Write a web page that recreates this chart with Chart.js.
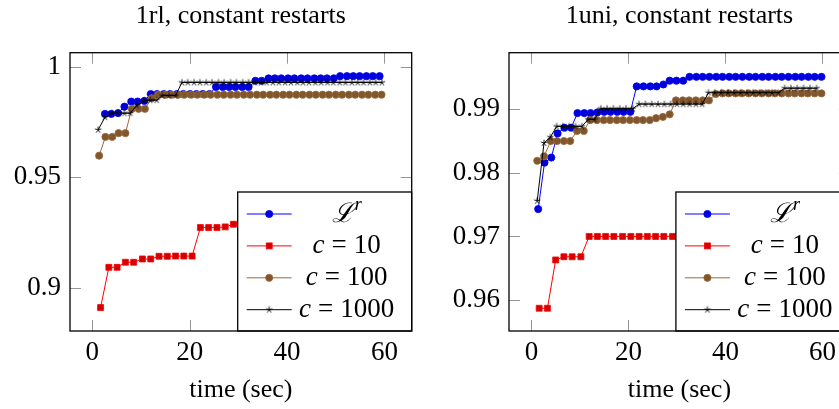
<!DOCTYPE html>
<html>
<head>
<meta charset="utf-8">
<script src="https://cdn.jsdelivr.net/npm/chart.js@4.4.1/dist/chart.umd.min.js"></script>
<style>
    html, body { margin: 0; padding: 0; background: #fff; overflow: hidden; width: 839px; height: 409px; }
    .panel { position: absolute; top: 0; }
    #rlChart { left: 0; }
    #uniChart { left: 439px; }
</style>
</head>
<body>
<canvas id="rlChart" class="panel" width="430" height="409"></canvas>
<canvas id="uniChart" class="panel" width="430" height="409"></canvas>
<script>
// tick labels
const xTicks = [0, 20, 40, 60];
const rlTicksY = [0.9, 0.95, 1];
const uniTicksY = [0.96, 0.97, 0.98, 0.99];

const seriesLabels = ['ℒ^r', 'c = 10', 'c = 100', 'c = 1000'];

// 1rl, constant restarts
const rlBlueTime = [2.6, 3.9, 5.3, 6.6, 8.0, 9.3, 10.7, 12.0, 13.3, 14.7, 16.0, 17.4, 18.7, 20.1, 21.4, 22.7, 24.1, 25.4, 26.8, 28.1, 29.4, 30.8, 32.1, 33.5, 34.8, 36.2, 37.5, 38.8, 40.2, 41.5, 42.9, 44.2, 45.6, 46.9, 48.2, 49.6, 50.9, 52.3, 53.6, 54.9, 56.3, 57.6, 59.0];
const rlBlueAcc = [0.9786, 0.9786, 0.9790, 0.9819, 0.9842, 0.9842, 0.9845,
    0.9876, 0.9876, 0.9876, 0.9876, 0.9876, 0.9876, 0.9876, 0.9876, 0.9876, 0.9876,
    0.9908, 0.9908, 0.9908, 0.9908, 0.9908, 0.9908, 0.9936, 0.9936,
    0.9947, 0.9947, 0.9947, 0.9947, 0.9947, 0.9947, 0.9947, 0.9947, 0.9947, 0.9947, 0.9947,
    0.9957, 0.9957, 0.9957, 0.9957, 0.9957, 0.9957, 0.9957];

const rlRedTime = [1.7, 3.4, 5.1, 6.8, 8.5, 10.3, 12.0, 13.7, 15.4, 17.1, 18.8, 20.5, 22.2, 23.9, 25.6, 27.3, 29.0, 30.7, 32.4, 34.1, 35.8, 37.5, 39.2, 40.9, 42.6, 44.4, 46.1, 47.8, 49.5, 51.2, 52.9, 54.6, 56.3, 58.0];
const rlRedAcc = [0.8910, 0.9092, 0.9092, 0.9115, 0.9115, 0.9130, 0.9130, 0.9142, 0.9142, 0.9143, 0.9143, 0.9143,
    0.9272, 0.9272, 0.9272, 0.9275, 0.9287, 0.9290, 0.9290, 0.9295, 0.9295, 0.9295, 0.9300, 0.9300,
    0.9300, 0.9300, 0.9305, 0.9305, 0.9305, 0.9305, 0.9310, 0.9310, 0.9310, 0.9310];

const rlBrownTime = [1.4, 2.7, 4.1, 5.4, 6.8, 8.1, 9.5, 10.8, 12.2, 13.5, 14.9, 16.2, 17.6, 18.9, 20.3, 21.6, 23.0, 24.3, 25.7, 27.0, 28.4, 29.7, 31.1, 32.4, 33.8, 35.1, 36.5, 37.8, 39.2, 40.5, 41.9, 43.2, 44.6, 45.9, 47.3, 48.6, 50.0, 51.3, 52.7, 54.0, 55.4, 56.7, 58.1, 59.4];
const rlBrownAcc = [0.9597, 0.9682, 0.9682, 0.9699, 0.9699, 0.9809, 0.9809, 0.9809, 0.9857,
    0.9873, 0.9873, 0.9873, 0.9873, 0.9873, 0.9873, 0.9873, 0.9873, 0.9873, 0.9873, 0.9873, 0.9873,
    0.9873, 0.9873, 0.9873, 0.9873, 0.9873, 0.9873, 0.9873, 0.9873, 0.9873, 0.9873, 0.9873, 0.9873,
    0.9873, 0.9873, 0.9873, 0.9873, 0.9873, 0.9873, 0.9873, 0.9873, 0.9873, 0.9873, 0.9873];

const rlBlackTime = [1.2, 2.6, 4.0, 5.3, 6.6, 7.8, 9.1, 10.6, 11.9, 13.2, 14.4, 15.7, 17.1, 18.4, 19.6, 20.9, 22.1, 23.4, 24.6, 25.9, 27.1, 28.4, 29.6, 30.9, 32.1, 33.3, 34.6, 35.8, 37.1, 38.3, 39.6, 40.8, 42.1, 43.3, 44.5, 45.8, 47.0, 48.3, 49.5, 50.8, 52.0, 53.3, 54.5, 55.7, 57.0, 58.2, 59.5];
const rlBlackAcc = [0.9714, 0.9771, 0.9789, 0.9789, 0.9789, 0.9789, 0.9824, 0.9845, 0.9848, 0.9848, 0.9869, 0.9869, 0.9869,
    0.9928, 0.9928, 0.9928, 0.9928, 0.9928, 0.9928, 0.9928, 0.9928, 0.9928, 0.9928, 0.9928, 0.9928,
    0.9928, 0.9928, 0.9928, 0.9928, 0.9928, 0.9928, 0.9928, 0.9928, 0.9928, 0.9928, 0.9928, 0.9928,
    0.9928, 0.9928, 0.9928, 0.9928, 0.9928, 0.9928, 0.9928, 0.9928, 0.9928, 0.9928];

// 1uni, constant restarts
const uniBlueTime = [1.4, 2.7, 4.1, 5.4, 6.8, 8.2, 9.5, 10.9, 12.2, 13.6, 15.0, 16.3, 17.7, 19.0, 20.4, 21.7, 23.1, 24.5, 25.8, 27.2, 28.5, 29.9, 31.3, 32.6, 34.0, 35.3, 36.7, 38.1, 39.4, 40.8, 42.1, 43.5, 44.9, 46.2, 47.6, 48.9, 50.3, 51.6, 53.0, 54.4, 55.7, 57.1, 58.4, 59.8];
const uniBlueAcc = [0.9743, 0.9816, 0.9824, 0.9862, 0.9871, 0.9871, 0.9894, 0.9894, 0.9894, 0.9895, 0.9896,
    0.9896, 0.9896, 0.9896, 0.9896, 0.9936, 0.9936, 0.9936, 0.9936, 0.9939, 0.9945, 0.9945, 0.9945,
    0.9951, 0.9951, 0.9951, 0.9951, 0.9951, 0.9951, 0.9951, 0.9951, 0.9951, 0.9951, 0.9951,
    0.9951, 0.9951, 0.9951, 0.9951, 0.9951, 0.9951, 0.9951, 0.9951, 0.9951, 0.9951];

const uniRedTime = [1.6, 3.3, 5.0, 6.7, 8.4, 10.2, 11.9, 13.6, 15.3, 17.0, 18.8, 20.5, 22.2, 23.9, 25.6, 27.3, 29.1, 30.8, 32.5, 34.2, 35.9, 37.6, 39.4, 41.1, 42.8, 44.5, 46.2, 47.9, 49.7, 51.4, 53.1, 54.8, 56.5, 58.3];
const uniRedAcc = [0.9587, 0.9587, 0.9663, 0.9668, 0.9668, 0.9668,
    0.9700, 0.9700, 0.9700, 0.9700, 0.9700, 0.9700, 0.9700, 0.9700, 0.9700, 0.9700, 0.9700, 0.9700, 0.9700, 0.9700,
    0.9700, 0.9700, 0.9700, 0.9700, 0.9700, 0.9700, 0.9700, 0.9700, 0.9700, 0.9700, 0.9700, 0.9700, 0.9700, 0.9700];

const uniBrownTime = [1.2, 2.6, 4.0, 5.3, 6.7, 8.0, 9.4, 10.8, 12.1, 13.5, 14.9, 16.2, 17.6, 18.9, 20.3, 21.7, 23.0, 24.4, 25.7, 27.1, 28.5, 29.8, 31.2, 32.5, 33.9, 35.3, 36.6, 38.0, 39.4, 40.7, 42.1, 43.4, 44.8, 46.2, 47.5, 48.9, 50.2, 51.6, 53.0, 54.3, 55.7, 57.0, 58.4, 59.8];
const uniBrownAcc = [0.9819, 0.9826, 0.9850, 0.9850, 0.9850, 0.9850, 0.9866, 0.9866,
    0.9883, 0.9883, 0.9883, 0.9883, 0.9883, 0.9883, 0.9883, 0.9883, 0.9883, 0.9883,
    0.9886, 0.9888, 0.9892, 0.9914, 0.9914, 0.9914, 0.9914, 0.9914, 0.9914, 0.9924,
    0.9925, 0.9925, 0.9925, 0.9925, 0.9925, 0.9925, 0.9925, 0.9925,
    0.9925, 0.9925, 0.9925, 0.9925, 0.9925, 0.9925, 0.9925, 0.9925];

const uniBlackTime = [1.2, 2.6, 3.9, 5.2, 6.5, 7.8, 9.1, 10.4, 11.7, 13.0, 14.3, 15.6, 16.9, 18.2, 19.5, 20.9, 22.2, 23.5, 24.8, 26.1, 27.4, 28.7, 30.0, 31.3, 32.6, 33.9, 35.2, 36.5, 37.8, 39.1, 40.5, 41.8, 43.1, 44.4, 45.7, 47.0, 48.3, 49.6, 50.9, 52.2, 53.5, 54.8, 56.1, 57.4, 58.8];
const uniBlackAcc = [0.9756, 0.9847, 0.9856, 0.9873, 0.9873, 0.9873, 0.9873, 0.9873, 0.9884, 0.9884,
    0.9901, 0.9901, 0.9901, 0.9901, 0.9901, 0.9901,
    0.9908, 0.9908, 0.9908, 0.9908, 0.9908, 0.9908, 0.9908, 0.9908, 0.9908, 0.9908, 0.9908,
    0.9926, 0.9926, 0.9926, 0.9926, 0.9926, 0.9926, 0.9926, 0.9926, 0.9926, 0.9926, 0.9926, 0.9926,
    0.9933, 0.9933, 0.9933, 0.9933, 0.9933, 0.9933];

Chart.defaults.font.family = '"Liberation Serif", "Times New Roman", serif';
Chart.defaults.font.size = 26;
Chart.defaults.color = '#000';

// five armed star like the pgfplots "star" mark
function starMark(r) {
    const c = document.createElement('canvas');
    const n = Math.ceil(2 * r + 3);
    c.width = n; c.height = n;
    const g = c.getContext('2d');
    g.strokeStyle = '#000';
    g.lineWidth = 0.9;
    g.beginPath();
    for (let k = 0; k < 5; k++) {
        const a = -Math.PI / 2 + k * 2 * Math.PI / 5;
        g.moveTo(n / 2, n / 2);
        g.lineTo(n / 2 + Math.cos(a) * r, n / 2 + Math.sin(a) * r);
    }
    g.stroke();
    return c;
}
const starImg = starMark(3.4);

const styles = [
    { line: 'rgb(0,0,255)', fill: 'rgb(0,0,215)', shape: 'circle', r: 3.6 },
    { line: 'rgb(255,0,0)', fill: 'rgb(210,0,0)', shape: 'rect', r: 4.2 },
    { line: 'rgb(155,105,60)', fill: 'rgb(128,86,45)', shape: 'circle', r: 3.6 },
    { line: 'rgb(0,0,0)', fill: 'rgb(0,0,0)', shape: starImg, r: 3.4 }
];

function pairs(ts, vs) {
    return ts.map((t, i) => ({ x: t, y: vs[i] }));
}

function makeSets(groups) {
    return groups.map((g, i) => ({
        label: seriesLabels[i],
        data: pairs(g[0], g[1]),
        borderColor: styles[i].line,
        borderWidth: 1,
        pointStyle: styles[i].shape,
        pointRadius: styles[i].r,
        pointBackgroundColor: styles[i].fill,
        pointBorderColor: styles[i].line,
        pointBorderWidth: 0.8,
        tension: 0,
        order: 3 - i
    }));
}

function drawMarker(ctx, st, x, y) {
    ctx.fillStyle = st.fill;
    ctx.strokeStyle = st.line;
    ctx.lineWidth = 0.8;
    if (st.shape === 'circle') {
        ctx.beginPath();
        ctx.arc(x, y, st.r, 0, Math.PI * 2);
        ctx.fill();
        ctx.stroke();
    } else if (st.shape === 'rect') {
        const s = st.r * Math.SQRT1_2;
        ctx.fillRect(x - s, y - s, 2 * s, 2 * s);
        ctx.strokeRect(x - s, y - s, 2 * s, 2 * s);
    } else {
        ctx.drawImage(st.shape, x - st.shape.width / 2, y - st.shape.height / 2);
    }
}

function drawLabel(ctx, text, cx, cy) {
    const upright = '27px "Liberation Serif", serif';
    const italic = 'italic 27px "Liberation Serif", serif';
    ctx.fillStyle = '#000';
    ctx.textBaseline = 'middle';
    ctx.textAlign = 'left';
    if (text.includes('^')) {
        const [base, sup] = text.split('^');
        ctx.font = italic;
        const wb = ctx.measureText(base).width;
        ctx.font = 'italic 18px "Liberation Serif", serif';
        const ws = ctx.measureText(sup).width;
        const x0 = cx - (wb + ws + 1) / 2;
        ctx.font = italic;
        ctx.fillText(base, x0, cy + 1);
        ctx.font = 'italic 18px "Liberation Serif", serif';
        ctx.fillText(sup, x0 + wb + 1, cy - 9);
        return;
    }
    const [v, , num] = text.split(' ');
    ctx.font = italic;
    const wc = ctx.measureText(v).width;
    ctx.font = upright;
    const we = ctx.measureText('=').width;
    const wn = ctx.measureText(num).width;
    const gap = 7;
    const x0 = cx - (wc + we + wn + 2 * gap) / 2;
    ctx.font = italic;
    ctx.fillText(v, x0, cy);
    ctx.font = upright;
    ctx.fillText('=', x0 + wc + gap, cy);
    ctx.fillText(num, x0 + wc + we + 2 * gap, cy);
}

const framePlugin = {
    id: 'frame',
    afterDatasetsDraw(chart) {
        const { ctx, chartArea: a } = chart;
        const xs = chart.scales.x, ys = chart.scales.y;
        ctx.save();
        ctx.strokeStyle = 'rgb(150,150,150)';
        ctx.lineWidth = 1;
        ctx.beginPath();
        xs.ticks.forEach(t => {
            const px = Math.round(xs.getPixelForValue(t.value)) + 0.5;
            ctx.moveTo(px, a.bottom); ctx.lineTo(px, a.bottom - 11);
            ctx.moveTo(px, a.top); ctx.lineTo(px, a.top + 11);
        });
        ys.ticks.forEach(t => {
            const py = Math.round(ys.getPixelForValue(t.value)) + 0.5;
            ctx.moveTo(a.left, py); ctx.lineTo(a.left + 11, py);
            ctx.moveTo(a.right, py); ctx.lineTo(a.right - 11, py);
        });
        ctx.stroke();

        // legend box, anchored bottom right
        const w = 174, h = 139;
        const lx = a.right - w, ly = a.bottom - h;
        ctx.fillStyle = '#fff';
        ctx.fillRect(lx, ly, w, h);
        chart.data.datasets.forEach((ds, i) => {
            const y = ly + 22 + i * 31.9;
            ctx.strokeStyle = styles[i].line;
            ctx.lineWidth = 1;
            ctx.beginPath();
            ctx.moveTo(lx + 9, y); ctx.lineTo(lx + 54, y);
            ctx.stroke();
            drawMarker(ctx, styles[i], lx + 31.5, y);
            drawLabel(ctx, ds.label, lx + 109, y);
        });
        ctx.strokeStyle = '#000';
        ctx.lineWidth = 1.3;
        ctx.strokeRect(lx, ly, w, h);
        ctx.strokeRect(a.left, a.top, a.right - a.left, a.bottom - a.top);
        ctx.restore();
    }
};

function buildChart(id, title, sets, yTicks, yMin, yMax, xMin, xMax, padRight) {
    return new Chart(document.getElementById(id), {
        type: 'line',
        data: { datasets: sets },
        options: {
            responsive: false,
            animation: false,
            layout: { padding: { left: 0, right: padRight, top: 0, bottom: 0 } },
            plugins: {
                legend: { display: false },
                tooltip: { enabled: false },
                title: {
                    display: true,
                    text: title,
                    fullSize: false,
                    color: '#000',
                    font: { size: 26, weight: 'normal' },
                    padding: { top: 1, bottom: 20.5 }
                }
            },
            scales: {
                x: {
                    type: 'linear',
                    min: xMin,
                    max: xMax,
                    afterBuildTicks: s => { s.ticks = xTicks.map(v => ({ value: v })); },
                    afterFit: s => { s.height = 78; },
                    grid: { display: false, drawTicks: false },
                    border: { display: false },
                    ticks: { padding: 6, maxRotation: 0, autoSkip: false, font: { size: 27 } },
                    title: { display: true, text: 'time (sec)', font: { size: 26 }, padding: { top: 0, bottom: 3 } }
                },
                y: {
                    type: 'linear',
                    min: yMin,
                    max: yMax,
                    afterBuildTicks: s => { s.ticks = yTicks.map(v => ({ value: v })); },
                    afterFit: s => { s.width = 70; },
                    grid: { display: false, drawTicks: false },
                    border: { display: false },
                    ticks: { padding: 9, autoSkip: false, font: { size: 27 }, callback: v => String(+v.toFixed(3)) }
                }
            }
        },
        plugins: [framePlugin]
    });
}

buildChart('rlChart', '1rl, constant restarts',
    makeSets([[rlBlueTime, rlBlueAcc], [rlRedTime, rlRedAcc], [rlBrownTime, rlBrownAcc], [rlBlackTime, rlBlackAcc]]),
    rlTicksY, 0.8804, 1.0063, -4.58, 65.6, 18.3);

buildChart('uniChart', '1uni, constant restarts',
    makeSets([[uniBlueTime, uniBlueAcc], [uniRedTime, uniRedAcc], [uniBrownTime, uniBrownAcc], [uniBlackTime, uniBlackAcc]]),
    uniTicksY, 0.95512, 0.9989, -4.62, 65.66, 19.1);
</script>
</body>
</html>
